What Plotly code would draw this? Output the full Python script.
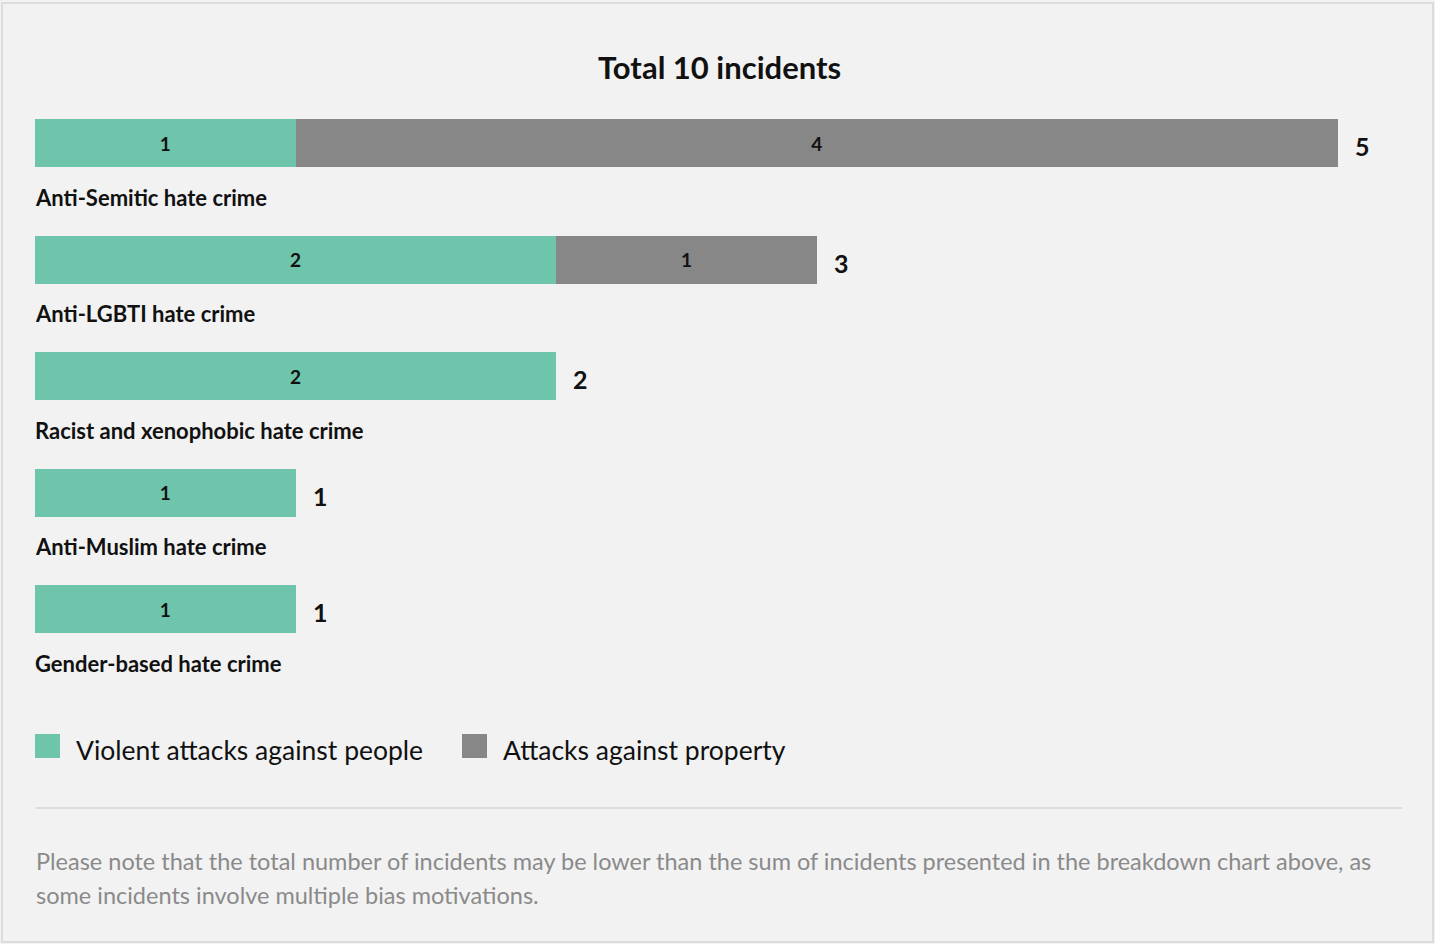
import plotly.graph_objects as go

categories = ["Anti-Semitic hate crime", "Anti-LGBTI hate crime", "Racist and xenophobic hate crime",
              "Anti-Muslim hate crime", "Gender-based hate crime"]
violent = [1, 2, 2, 1, 1]
prop = [4, 1, 0, 0, 0]
totals = [5, 3, 2, 1, 1]
series_names = ["Violent attacks against people", "Attacks against property"]
colors = ["#6fc5ab", "#878787"]
title_text = "Total 10 incidents"
note_lines = ["Please note that the total number of incidents may be lower than the sum of incidents presented in the breakdown chart above, as",
              "some incidents involve multiple bias motivations."]

W, H = 1435, 944
FONT = "Lato"
ypos = list(range(len(categories)))

fig = go.Figure()
for vals, name, col in [(violent, series_names[0], colors[0]), (prop, series_names[1], colors[1])]:
    fig.add_trace(go.Bar(
        y=ypos, x=vals, orientation="h", name=name, marker=dict(color=col, line=dict(width=0)),
        width=0.412,
        text=[str(v) if v else "" for v in vals], textposition="inside", insidetextanchor="middle",
        constraintext="none",
        textfont=dict(family=FONT, size=19, color="#111111", weight="bold"),
        hoverinfo="skip", showlegend=False,
    ))

annotations = []
for i, (c, t) in enumerate(zip(categories, totals)):
    annotations.append(dict(x=t, y=i, xref="x", yref="y", text=str(t), showarrow=False,
                            xanchor="left", xshift=15, yshift=-3,
                            font=dict(family=FONT, size=25, color="#111111", weight="bold")))
    annotations.append(dict(x=33 / W, y=i + 0.4635, xref="paper", yref="y", text=c, showarrow=False,
                            xanchor="left", yanchor="middle",
                            font=dict(family=FONT, size=22, color="#111111", weight="bold")))

annotations.append(dict(x=719 / W, y=1 - 67 / H, xref="paper", yref="paper", text=title_text, showarrow=False,
                        xanchor="center", yanchor="middle",
                        font=dict(family=FONT, size=31, color="#111111", weight="bold")))

shapes = []
# legend
leg_x = [35, 462]
for name, col, lx in zip(series_names, colors, leg_x):
    shapes.append(dict(type="rect", xref="paper", yref="paper", x0=lx / W, x1=(lx + 25) / W,
                       y0=1 - 758 / H, y1=1 - 734 / H, fillcolor=col, line=dict(width=0)))
    annotations.append(dict(x=(lx + 39) / W, y=1 - 750 / H, xref="paper", yref="paper", text=name,
                            showarrow=False, xanchor="left", yanchor="middle",
                            font=dict(family=FONT, size=26.5, color="#111111")))

shapes.append(dict(type="line", xref="paper", yref="paper", x0=36 / W, x1=1402 / W,
                   y0=1 - 808 / H, y1=1 - 808 / H, line=dict(color="#dcdcdc", width=2)))
shapes.append(dict(type="rect", xref="paper", yref="paper", x0=2 / W, x1=1433 / W,
                   y0=1 - 942 / H, y1=1 - 3 / H, line=dict(color="#dcdcdc", width=2)))

for k, line in enumerate(note_lines):
    annotations.append(dict(x=34 / W, y=1 - (861 + 34 * k) / H, xref="paper", yref="paper", text=line,
                            showarrow=False, xanchor="left", yanchor="middle", align="left",
                            font=dict(family=FONT, size=23.5, color="#8a8a8a")))

fig.update_layout(
    width=W, height=H, barmode="stack",
    margin=dict(l=0, r=0, t=0, b=0),
    paper_bgcolor="#f2f2f2", plot_bgcolor="#f2f2f2",
    xaxis=dict(domain=[35 / W, 1338 / W], range=[0, 5], visible=False, fixedrange=True),
    yaxis=dict(domain=[1 - 667.25 / H, 1 - 84.75 / H], range=[4.5, -0.5], visible=False, fixedrange=True),
    annotations=annotations, shapes=shapes,
    font=dict(family=FONT),
)

fig.write_html("out.html", config={"displayModeBar": False},
               post_script="document.body.style.margin='0';document.body.style.overflow='hidden';")
